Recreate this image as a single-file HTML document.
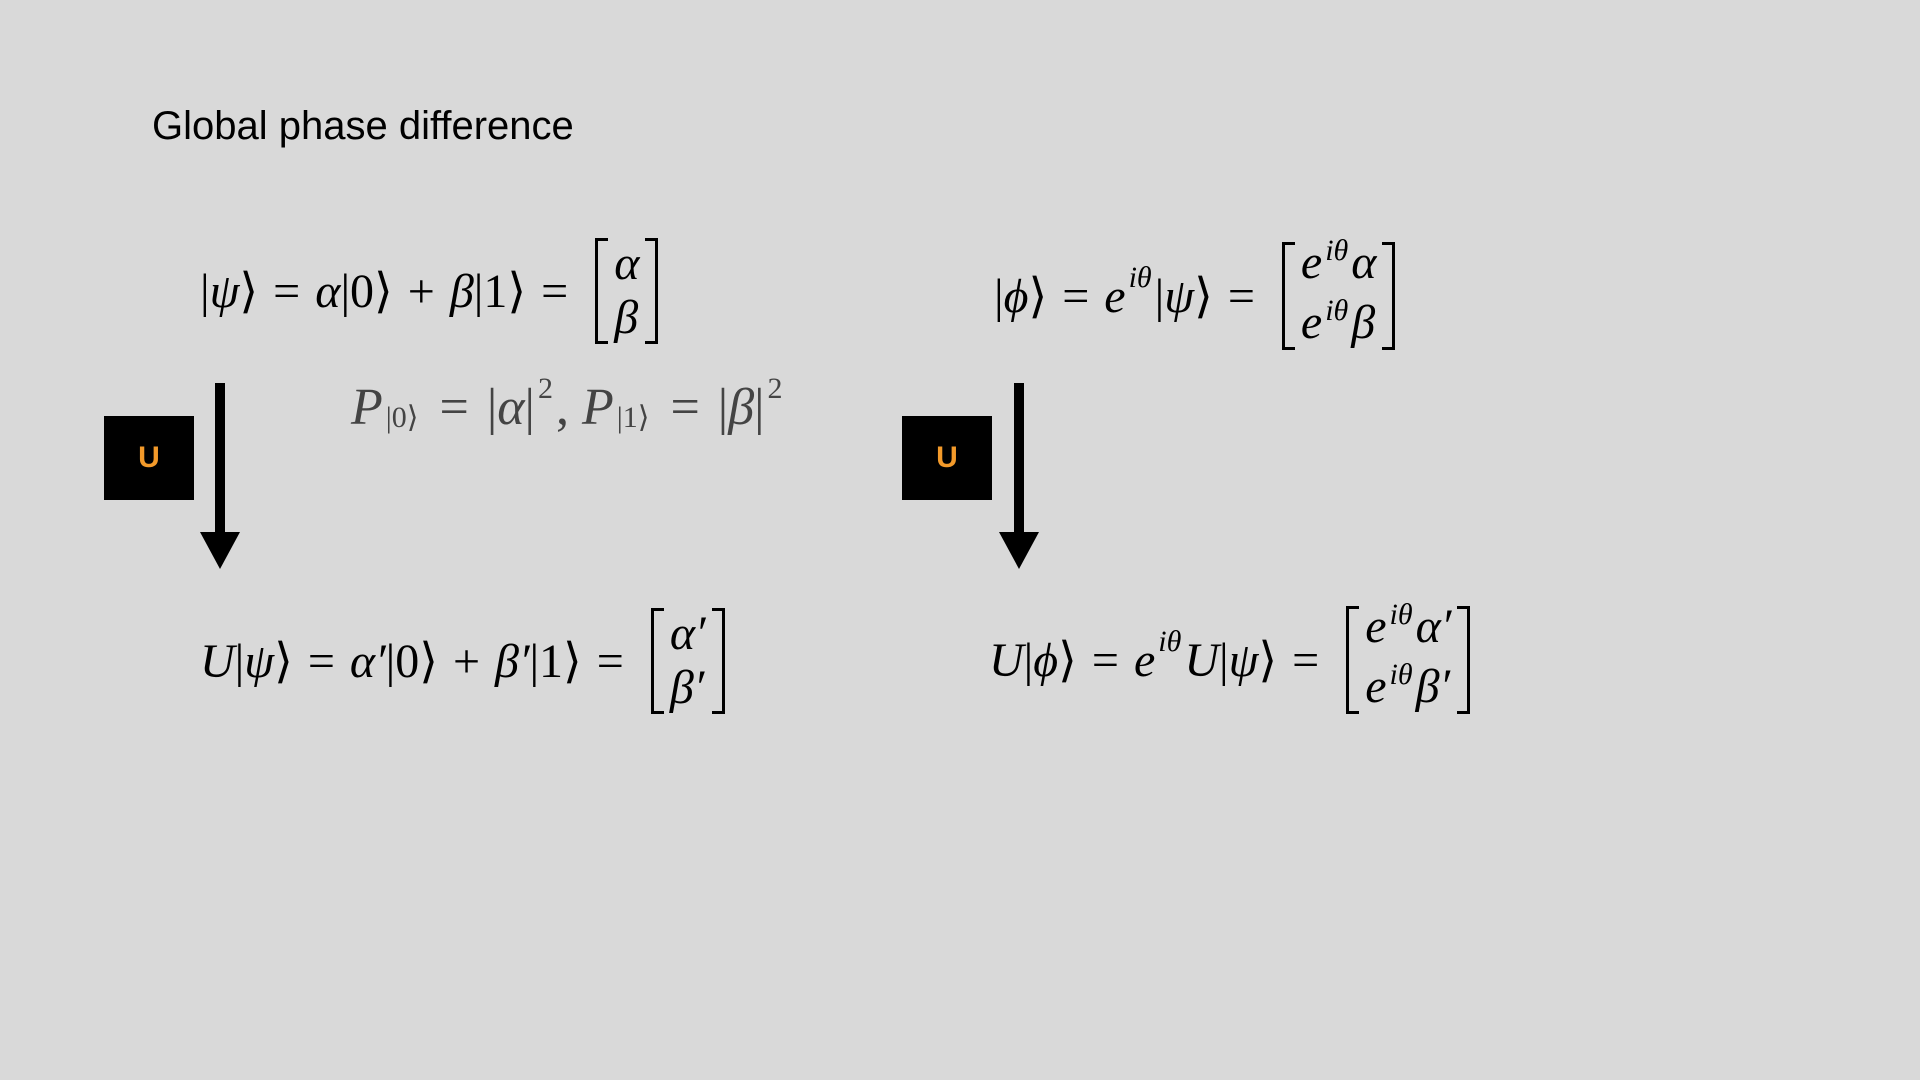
<!DOCTYPE html>
<html><head><meta charset="utf-8">
<style>
body{margin:0;width:1920px;height:1080px;background:#d9d9d9;position:relative;overflow:hidden;font-family:"Liberation Serif",serif;}
.title{position:absolute;left:152px;top:104px;font-family:"Liberation Sans",sans-serif;font-size:40px;color:#000;}
.eq{position:absolute;display:flex;align-items:center;font-size:48px;color:#000;white-space:nowrap;}
.i{font-style:italic}
.op{margin:0 15px}
.mat{display:flex;align-items:stretch;margin-left:12px}
.br{width:10px;border:3px solid #000;}
.bl{border-right:none}.brr{border-left:none}
.cells{display:flex;flex-direction:column;justify-content:center;padding:0 6px;line-height:54px}
sup{font-size:30px;vertical-align:0;position:relative;top:-18px;margin:0 3px}
sub{font-size:30px;position:relative;top:10px;vertical-align:0;margin:0 3px}
.box{position:absolute;width:90px;height:84px;background:#000;color:#f39a2a;font-family:"Liberation Sans",sans-serif;font-weight:bold;font-size:30px;display:flex;align-items:center;justify-content:center;}
.shaft{position:absolute;width:10px;background:#000}
.head{position:absolute;width:0;height:0;border-left:20px solid transparent;border-right:20px solid transparent;border-top:37px solid #000}
</style></head><body>
<div class="title">Global phase difference</div>

<div class="eq" style="left:200px;top:236px;height:110px">
<span>|<span class="i">ψ</span>⟩</span><span class="op">=</span><span class="i">α</span><span>|0⟩</span><span class="op">+</span><span class="i">β</span><span>|1⟩</span><span class="op">=</span>
<span class="mat" style="height:106px"><span class="br bl"></span><span class="cells"><span class="i">α</span><span class="i">β</span></span><span class="br brr"></span></span>
</div>

<div class="eq" style="left:351px;top:374px;height:66px;color:#444;font-size:52px">
<span class="i">P</span><sub>|0⟩</sub><span class="op" style="margin:0 18px">=</span><span>|<span class="i">α</span>|</span><sup>2</sup><span>,&nbsp;</span><span class="i">P</span><sub>|1⟩</sub><span class="op" style="margin:0 18px">=</span><span>|<span class="i">β</span>|</span><sup>2</sup>
</div>

<div class="eq" style="left:994px;top:240px;height:112px">
<span>|<span class="i">ϕ</span>⟩</span><span class="op">=</span><span class="i">e</span><sup class="i">iθ</sup><span>|<span class="i">ψ</span>⟩</span><span class="op">=</span>
<span class="mat" style="height:108px"><span class="br bl"></span><span class="cells"><span><span class="i">e</span><sup class="i">iθ</sup><span class="i">α</span></span><span><span class="i">e</span><sup class="i">iθ</sup><span class="i">β</span></span></span><span class="br brr"></span></span>
</div>

<div class="box" style="left:104px;top:416px">U</div>
<div class="shaft" style="left:215px;top:383px;height:152px"></div>
<div class="head" style="left:200px;top:532px"></div>

<div class="box" style="left:902px;top:416px">U</div>
<div class="shaft" style="left:1014px;top:383px;height:152px"></div>
<div class="head" style="left:999px;top:532px"></div>

<div class="eq" style="left:200px;top:606px;height:110px">
<span class="i">U</span><span>|<span class="i">ψ</span>⟩</span><span class="op">=</span><span class="i">α′</span><span>|0⟩</span><span class="op">+</span><span class="i">β′</span><span>|1⟩</span><span class="op">=</span>
<span class="mat" style="height:106px"><span class="br bl"></span><span class="cells"><span class="i">α′</span><span class="i">β′</span></span><span class="br brr"></span></span>
</div>

<div class="eq" style="left:989px;top:604px;height:112px">
<span class="i">U</span><span>|<span class="i">ϕ</span>⟩</span><span class="op">=</span><span class="i">e</span><sup class="i">iθ</sup><span class="i">U</span><span>|<span class="i">ψ</span>⟩</span><span class="op">=</span>
<span class="mat" style="height:108px"><span class="br bl"></span><span class="cells"><span><span class="i">e</span><sup class="i">iθ</sup><span class="i">α′</span></span><span><span class="i">e</span><sup class="i">iθ</sup><span class="i">β′</span></span></span><span class="br brr"></span></span>
</div>
</body></html>
